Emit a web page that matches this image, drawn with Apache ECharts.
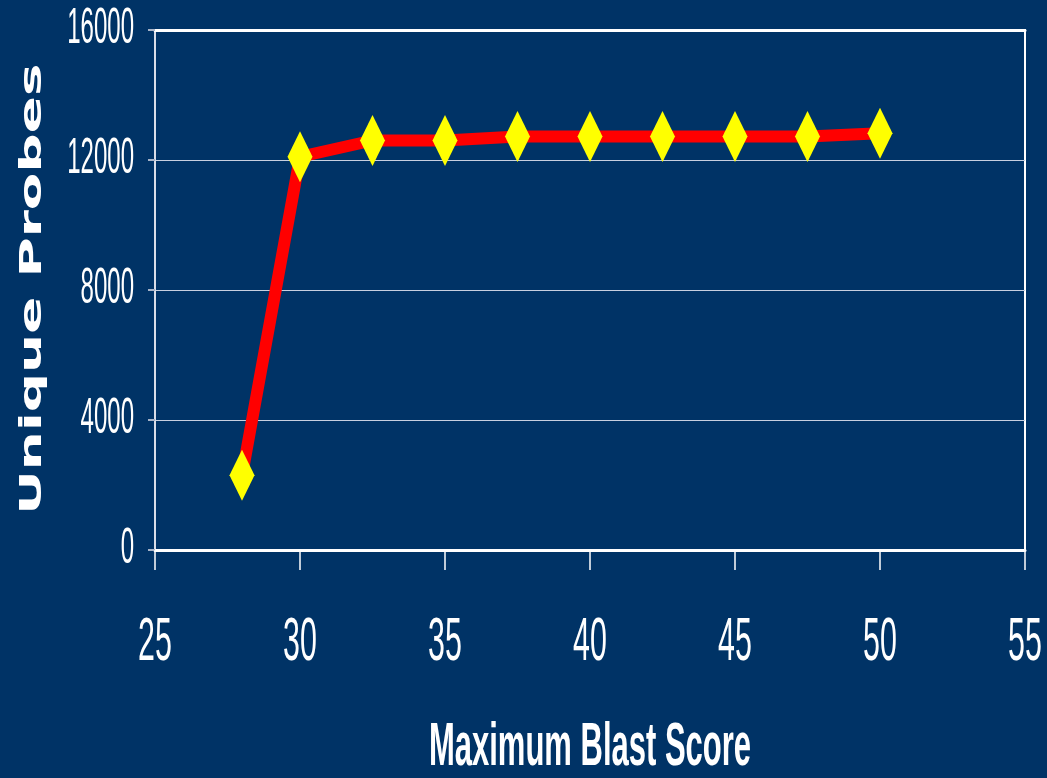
<!DOCTYPE html>
<html>
<head>
<meta charset="utf-8">
<script src="https://cdn.jsdelivr.net/npm/echarts@6/dist/echarts.min.js"></script>
<style>
  html, body { margin: 0; padding: 0; background: #003366; overflow: hidden; }
  #chart { width: 1047px; height: 778px; }
</style>
</head>
<body>
<div id="chart"></div>
<script>
// Data
const blastScores = [28, 30, 32.5, 35, 37.5, 40, 42.5, 45, 47.5, 50];
const uniqueProbes = [2300, 12100, 12600, 12600, 12720, 12720, 12720, 12720, 12720, 12820];
const xTicks = [25, 30, 35, 40, 45, 50, 55];
const yTicks = [0, 4000, 8000, 12000, 16000];
const xTitle = 'Maximum Blast Score';
const yTitle = 'Unique Probes';

const chart = echarts.init(document.getElementById('chart'), null, { renderer: 'canvas' });

const option = {
  backgroundColor: '#003366',
  animation: false,
  grid: {
    left: 155, right: 22, top: 30, bottom: 228,
    containLabel: false, outerBoundsMode: 'none',
    show: true, borderColor: '#ffffff', borderWidth: 2, backgroundColor: 'transparent'
  },
  xAxis: [{
    type: 'value',
    min: xTicks[0], max: xTicks[xTicks.length - 1], interval: 5,
    axisLine: { show: true, onZero: false, lineStyle: { color: '#ffffff', width: 3 } },
    axisTick: { show: true, inside: false, length: 20, lineStyle: { color: '#ffffff', width: 1.5 } },
    splitLine: { show: false },
    axisLabel: { show: false }
  }, {
    type: 'value', position: 'top',
    min: xTicks[0], max: xTicks[xTicks.length - 1], interval: 5,
    axisLine: { show: true, onZero: false, lineStyle: { color: '#ffffff', width: 3 } },
    axisTick: { show: false }, splitLine: { show: false }, axisLabel: { show: false }
  }],
  yAxis: {
    type: 'value',
    min: yTicks[0], max: yTicks[yTicks.length - 1], interval: 4000,
    axisLine: { show: true, lineStyle: { color: '#d8dde8', width: 2 } },
    axisTick: { show: true, inside: false, length: 7, lineStyle: { color: '#a8b4c8', width: 2 } },
    splitLine: { show: true, lineStyle: { color: '#c8d0e0', width: 1.2 } },
    axisLabel: { show: false }
  },
  series: [{
    type: 'line',
    xAxisIndex: 0,
    data: blastScores.map((x, i) => [x, uniqueProbes[i]]),
    lineStyle: { color: '#ff0000', width: 12 },
    itemStyle: { color: '#ffff00', borderWidth: 0 },
    symbol: 'diamond',
    symbolSize: [25, 51],
    showSymbol: true
  }]
};

chart.setOption(option);

// Condensed tick labels and titles (the reference text is horizontally squeezed),
// placed through the chart's own axis scales.
const FONT = '"Liberation Sans", Arial, sans-serif';
const labels = [];
xTicks.forEach(v => {
  const p = chart.convertToPixel({ xAxisIndex: 0, yAxisIndex: 0 }, [v, 0]);
  labels.push({
    type: 'text', x: p[0], y: p[1] + 93, scaleX: 0.49, scaleY: 1, silent: true,
    style: { text: String(v), fill: '#ffffff', font: '62px ' + FONT,
             textAlign: 'center', textVerticalAlign: 'middle', align: 'center', verticalAlign: 'middle' }
  });
});
yTicks.forEach(v => {
  const p = chart.convertToPixel({ xAxisIndex: 0, yAxisIndex: 0 }, [xTicks[0], v]);
  labels.push({
    type: 'text', x: p[0] - 21, y: p[1] - 1, scaleX: 0.48, scaleY: 1, silent: true,
    style: { text: String(v), fill: '#ffffff', font: '50px ' + FONT,
             textAlign: 'right', textVerticalAlign: 'middle', align: 'right', verticalAlign: 'middle' }
  });
});
labels.push({
  type: 'text', x: 590, y: 748, scaleX: 0.5, scaleY: 1, silent: true,
  style: { text: xTitle, fill: '#ffffff', font: 'bold 62px ' + FONT,
           textAlign: 'center', textVerticalAlign: 'middle', align: 'center', verticalAlign: 'middle' }
});
labels.push({
  type: 'text', x: 33, y: 289, rotation: Math.PI / 2, scaleX: 1.83, scaleY: 1, silent: true,
  style: { text: yTitle, fill: '#ffffff', font: 'bold 30px "DejaVu Sans", Verdana, sans-serif',
           textAlign: 'center', textVerticalAlign: 'middle', align: 'center', verticalAlign: 'middle' }
});
chart.setOption({ graphic: labels });
</script>
</body>
</html>
